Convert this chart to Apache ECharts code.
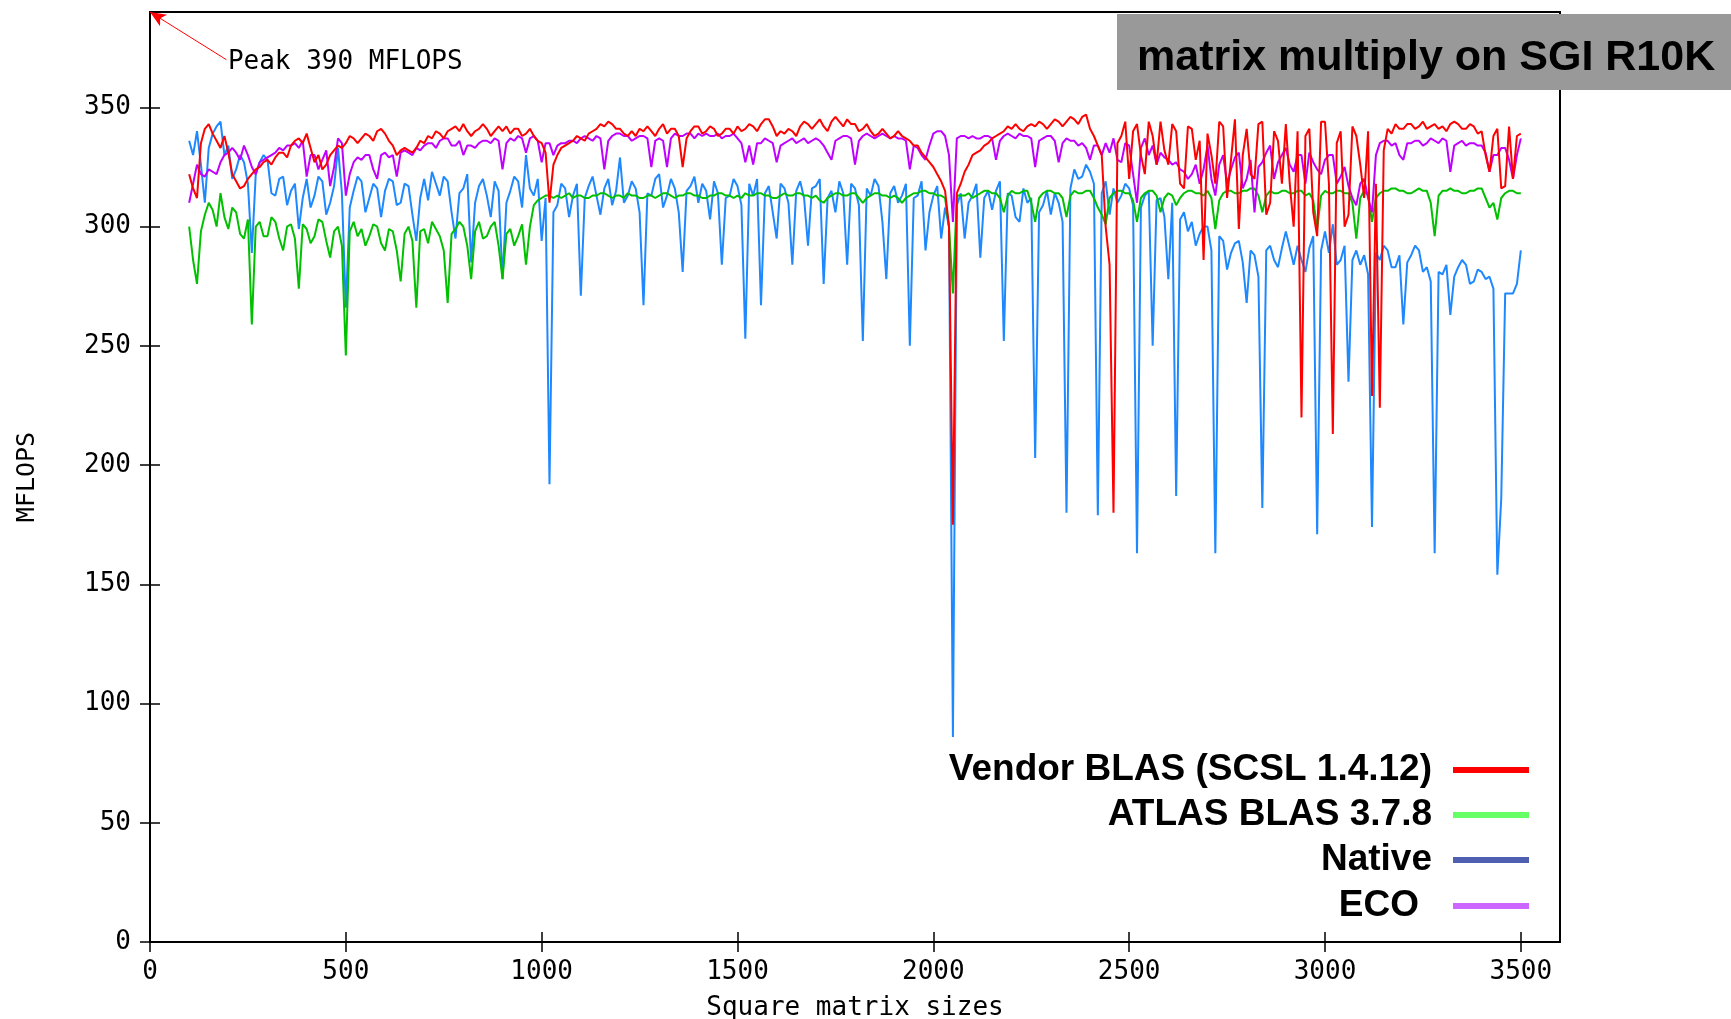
<!DOCTYPE html>
<html>
<head>
<meta charset="utf-8">
<title>matrix multiply on SGI R10K</title>
<script src="https://cdn.jsdelivr.net/npm/echarts/dist/echarts.min.js"></script>
<style>
    html, body { margin: 0; padding: 0; background: #fff; }
    #chart { width: 1731px; height: 1019px; }
</style>
</head>
<body>
<div id="chart"></div>
<script>
// square matrix sizes (x)
var sizes = [
    100, 110, 120, 130, 140, 150, 160, 170, 180, 190, 200, 210, 220, 230, 240, 250, 260, 270, 280, 290,
    300, 310, 320, 330, 340, 350, 360, 370, 380, 390, 400, 410, 420, 430, 440, 450, 460, 470, 480, 490,
    500, 510, 520, 530, 540, 550, 560, 570, 580, 590, 600, 610, 620, 630, 640, 650, 660, 670, 680, 690,
    700, 710, 720, 730, 740, 750, 760, 770, 780, 790, 800, 810, 820, 830, 840, 850, 860, 870, 880, 890,
    900, 910, 920, 930, 940, 950, 960, 970, 980, 990, 1000, 1010, 1020, 1030, 1040, 1050, 1060, 1070, 1080, 1090,
    1100, 1110, 1120, 1130, 1140, 1150, 1160, 1170, 1180, 1190, 1200, 1210, 1220, 1230, 1240, 1250, 1260, 1270, 1280, 1290,
    1300, 1310, 1320, 1330, 1340, 1350, 1360, 1370, 1380, 1390, 1400, 1410, 1420, 1430, 1440, 1450, 1460, 1470, 1480, 1490,
    1500, 1510, 1520, 1530, 1540, 1550, 1560, 1570, 1580, 1590, 1600, 1610, 1620, 1630, 1640, 1650, 1660, 1670, 1680, 1690,
    1700, 1710, 1720, 1730, 1740, 1750, 1760, 1770, 1780, 1790, 1800, 1810, 1820, 1830, 1840, 1850, 1860, 1870, 1880, 1890,
    1900, 1910, 1920, 1930, 1940, 1950, 1960, 1970, 1980, 1990, 2000, 2010, 2020, 2030, 2040, 2050, 2060, 2070, 2080, 2090,
    2100, 2110, 2120, 2130, 2140, 2150, 2160, 2170, 2180, 2190, 2200, 2210, 2220, 2230, 2240, 2250, 2260, 2270, 2280, 2290,
    2300, 2310, 2320, 2330, 2340, 2350, 2360, 2370, 2380, 2390, 2400, 2410, 2420, 2430, 2440, 2450, 2460, 2470, 2480, 2490,
    2500, 2510, 2520, 2530, 2540, 2550, 2560, 2570, 2580, 2590, 2600, 2610, 2620, 2630, 2640, 2650, 2660, 2670, 2680, 2690,
    2700, 2710, 2720, 2730, 2740, 2750, 2760, 2770, 2780, 2790, 2800, 2810, 2820, 2830, 2840, 2850, 2860, 2870, 2880, 2890,
    2900, 2910, 2920, 2930, 2940, 2950, 2960, 2970, 2980, 2990, 3000, 3010, 3020, 3030, 3040, 3050, 3060, 3070, 3080, 3090,
    3100, 3110, 3120, 3130, 3140, 3150, 3160, 3170, 3180, 3190, 3200, 3210, 3220, 3230, 3240, 3250, 3260, 3270, 3280, 3290,
    3300, 3310, 3320, 3330, 3340, 3350, 3360, 3370, 3380, 3390, 3400, 3410, 3420, 3430, 3440, 3450, 3460, 3470, 3480, 3490,
    3500
];

// Vendor BLAS (SCSL 1.4.12)
var vendor = [
    322, 316, 312, 335, 341, 343, 339, 336, 333, 338, 331, 322, 319, 316, 317, 320, 322, 324, 325, 327,
    328, 326, 329, 331, 331, 329, 334, 336, 337, 335, 339, 333, 327, 330, 324, 326, 330, 332, 334, 333,
    335, 338, 337, 335, 337, 339, 338, 336, 340, 341, 339, 336, 334, 330, 332, 333, 332, 331, 333, 336,
    335, 338, 337, 340, 339, 337, 340, 341, 342, 340, 343, 340, 338, 340, 341, 343, 341, 338, 340, 342,
    340, 342, 339, 341, 341, 338, 339, 341, 338, 336, 335, 331, 310, 326, 330, 333, 334, 335, 336, 338,
    337, 336, 339, 340, 341, 343, 342, 344, 343, 341, 341, 339, 338, 340, 338, 341, 340, 342, 340, 338,
    341, 343, 339, 341, 341, 338, 325, 337, 340, 342, 342, 339, 340, 342, 341, 338, 339, 341, 341, 339,
    342, 340, 341, 343, 342, 340, 343, 345, 345, 342, 338, 340, 339, 341, 340, 338, 342, 344, 343, 341,
    343, 345, 342, 340, 344, 346, 344, 342, 345, 343, 343, 340, 341, 343, 340, 338, 339, 341, 339, 337,
    338, 340, 338, 337, 336, 334, 334, 331, 329, 327, 325, 322, 319, 315, 300, 175, 314, 318, 323, 326,
    330, 331, 332, 334, 335, 337, 338, 339, 340, 342, 341, 343, 341, 340, 342, 343, 342, 344, 343, 341,
    343, 345, 344, 342, 344, 346, 345, 343, 346, 347, 341, 338, 334, 330, 300, 284, 180, 335, 338, 344,
    320, 340, 343, 330, 322, 344, 338, 326, 344, 332, 326, 343, 340, 318, 316, 342, 341, 328, 336, 286,
    339, 330, 318, 344, 342, 312, 328, 345, 299, 330, 341, 322, 320, 343, 344, 305, 310, 340, 336, 318,
    343, 318, 300, 340, 220, 338, 341, 306, 296, 344, 344, 318, 213, 335, 340, 300, 305, 342, 338, 326,
    312, 340, 229, 318, 224, 332, 341, 339, 343, 341, 341, 343, 343, 341, 342, 344, 341, 342, 343, 341,
    342, 340, 343, 344, 343, 341, 341, 343, 342, 339, 340, 330, 323, 338, 341, 316, 317, 342, 320, 338,
    339
];

// ATLAS BLAS 3.7.8
var atlas = [
    300, 286, 276, 298, 305, 310, 307, 300, 314, 304, 299, 308, 306, 297, 295, 303, 259, 300, 302, 296,
    296, 304, 302, 295, 290, 300, 301, 295, 274, 301, 299, 293, 296, 303, 302, 294, 287, 298, 300, 292,
    246, 298, 302, 296, 299, 292, 296, 301, 300, 293, 290, 299, 298, 290, 277, 297, 300, 294, 266, 298,
    299, 293, 302, 299, 296, 290, 268, 297, 299, 302, 300, 292, 278, 298, 302, 295, 296, 300, 302, 292,
    278, 297, 299, 292, 296, 301, 284, 300, 309, 311, 312, 313, 313, 312, 313, 312, 313, 314, 312, 313,
    313, 312, 312, 313, 313, 314, 314, 313, 312, 313, 313, 312, 314, 313, 313, 312, 312, 313, 313, 312,
    313, 314, 314, 313, 312, 313, 313, 314, 314, 313, 313, 312, 312, 313, 313, 314, 314, 313, 313, 312,
    313, 312, 314, 313, 313, 314, 314, 313, 313, 312, 312, 313, 314, 313, 313, 314, 314, 313, 313, 312,
    313, 311, 310, 312, 313, 314, 314, 313, 313, 314, 314, 312, 310, 312, 313, 314, 314, 313, 313, 312,
    313, 312, 310, 312, 313, 314, 314, 315, 315, 314, 314, 313, 313, 312, 300, 272, 313, 313, 313, 314,
    312, 313, 314, 315, 315, 314, 314, 312, 306, 313, 315, 314, 314, 315, 315, 310, 302, 312, 314, 315,
    315, 314, 314, 312, 304, 313, 315, 314, 314, 315, 315, 312, 308, 305, 301, 312, 314, 315, 315, 314,
    314, 311, 302, 312, 314, 315, 315, 313, 306, 312, 314, 313, 309, 312, 314, 315, 315, 314, 314, 313,
    315, 312, 299, 311, 314, 315, 315, 314, 314, 315, 315, 316, 316, 313, 306, 313, 315, 314, 314, 315,
    315, 314, 314, 315, 315, 313, 314, 311, 299, 313, 315, 314, 314, 315, 315, 314, 314, 310, 295, 312,
    315, 313, 302, 312, 314, 315, 315, 316, 316, 315, 315, 314, 314, 315, 316, 315, 315, 310, 296, 313,
    315, 315, 316, 315, 315, 314, 314, 315, 315, 316, 316, 312, 308, 310, 303, 312, 314, 315, 315, 314,
    314
];

// Native
var native = [
    336, 330, 340, 326, 310, 333, 339, 342, 344, 330, 334, 320, 324, 330, 327, 318, 289, 322, 327, 330,
    328, 314, 313, 320, 321, 309, 315, 318, 299, 312, 320, 308, 313, 321, 319, 305, 310, 317, 333, 314,
    266, 308, 315, 321, 319, 306, 312, 318, 316, 304, 315, 320, 319, 309, 310, 318, 317, 305, 294, 312,
    320, 311, 323, 318, 313, 321, 319, 306, 295, 314, 316, 322, 285, 310, 317, 320, 313, 304, 319, 315,
    278, 310, 315, 321, 319, 308, 330, 316, 313, 320, 294, 312, 192, 306, 309, 318, 316, 304, 313, 318,
    271, 312, 317, 321, 313, 305, 316, 320, 309, 315, 329, 310, 313, 319, 316, 306, 267, 314, 313, 320,
    322, 308, 313, 320, 316, 306, 281, 315, 317, 321, 310, 318, 315, 303, 319, 314, 284, 312, 313, 320,
    317, 309, 253, 318, 313, 320, 267, 314, 317, 306, 295, 318, 316, 310, 284, 315, 319, 312, 292, 316,
    317, 320, 276, 312, 315, 306, 319, 314, 284, 318, 316, 309, 252, 316, 313, 320, 317, 302, 278, 314,
    317, 310, 313, 318, 250, 312, 313, 319, 290, 306, 313, 317, 295, 308, 300, 86, 309, 314, 295, 310,
    313, 318, 287, 312, 315, 307, 315, 319, 252, 314, 313, 304, 302, 316, 310, 312, 203, 306, 309, 315,
    305, 314, 310, 302, 180, 316, 324, 320, 321, 326, 323, 318, 179, 314, 319, 305, 316, 310, 313, 318,
    316, 309, 163, 308, 313, 315, 250, 311, 312, 304, 278, 310, 187, 303, 306, 298, 302, 292, 297, 300,
    300, 290, 163, 296, 294, 282, 289, 293, 294, 285, 268, 290, 288, 279, 182, 290, 292, 286, 283, 291,
    298, 291, 284, 292, 286, 281, 291, 296, 171, 290, 298, 289, 301, 284, 286, 292, 235, 286, 290, 284,
    288, 280, 174, 289, 286, 292, 290, 283, 283, 288, 259, 285, 288, 292, 290, 281, 283, 277, 163, 281,
    280, 284, 263, 279, 283, 286, 284, 276, 277, 282, 281, 278, 279, 274, 154, 186, 272, 272, 272, 276,
    290
];

// ECO
var eco = [
    310, 318, 326, 322, 321, 324, 323, 322, 327, 330, 331, 333, 331, 328, 334, 330, 325, 322, 327, 328,
    329, 330, 331, 333, 332, 334, 334, 335, 333, 336, 321, 330, 330, 324, 328, 332, 317, 325, 337, 335,
    313, 322, 327, 329, 328, 330, 330, 324, 320, 330, 331, 329, 330, 321, 331, 332, 331, 330, 333, 332,
    334, 335, 335, 333, 336, 337, 337, 334, 334, 336, 330, 334, 334, 333, 335, 336, 336, 335, 337, 336,
    324, 335, 337, 336, 338, 337, 331, 337, 338, 336, 327, 335, 335, 330, 334, 335, 335, 336, 336, 335,
    337, 338, 337, 336, 338, 337, 324, 336, 338, 339, 339, 338, 338, 336, 337, 338, 338, 337, 325, 336,
    337, 336, 325, 337, 339, 338, 338, 339, 339, 337, 339, 338, 339, 338, 338, 339, 337, 338, 338, 339,
    337, 335, 327, 334, 326, 335, 335, 337, 336, 335, 327, 334, 335, 336, 337, 335, 336, 337, 335, 336,
    337, 336, 334, 331, 328, 336, 337, 338, 338, 337, 326, 336, 338, 339, 338, 337, 338, 339, 338, 337,
    338, 337, 337, 336, 324, 334, 333, 330, 328, 334, 339, 340, 340, 338, 330, 302, 337, 338, 338, 337,
    338, 337, 337, 338, 338, 337, 328, 336, 338, 339, 338, 337, 339, 338, 338, 337, 325, 336, 337, 338,
    338, 336, 327, 335, 337, 336, 336, 334, 335, 333, 328, 334, 334, 330, 335, 331, 337, 328, 327, 335,
    334, 322, 310, 333, 337, 330, 334, 326, 331, 329, 328, 326, 327, 324, 323, 320, 322, 326, 318, 324,
    334, 320, 313, 326, 330, 318, 324, 329, 331, 316, 320, 328, 306, 325, 327, 331, 334, 320, 327, 330,
    333, 326, 323, 330, 330, 318, 331, 327, 324, 322, 328, 330, 330, 318, 321, 325, 317, 312, 309, 318,
    320, 312, 306, 330, 335, 336, 336, 334, 335, 330, 328, 335, 335, 336, 336, 334, 335, 337, 336, 335,
    337, 336, 323, 334, 335, 336, 334, 335, 335, 334, 334, 331, 323, 330, 330, 333, 333, 328, 320, 330,
    337
];

var xTicks = [0, 500, 1000, 1500, 2000, 2500, 3000, 3500];
var yTicks = [0, 50, 100, 150, 200, 250, 300, 350];

var legendNames = ['Vendor BLAS (SCSL 1.4.12)', 'ATLAS BLAS 3.7.8', 'Native', 'ECO'];
var legendColors = ['#ff0000', '#66ff66', '#5060b0', '#cc66ff'];

var monoFont = 'DejaVu Sans Mono';

function toPoints(values) {
    var pts = [];
    for (var i = 0; i < sizes.length; i++) {
        pts.push([sizes[i], values[i]]);
    }
    return pts;
}

function makeLine(name, values, color, z) {
    return {
        name: name,
        type: 'line',
        data: toPoints(values),
        showSymbol: false,
        symbol: 'none',
        z: z,
        lineStyle: { color: color, width: 2 },
        itemStyle: { color: color }
    };
}

function plainNumber(v) {
    return String(v);
}

//坐标轴
function makeXAxis(pos, showLabel) {
    return {
        type: 'value', position: pos, min: 0, max: 3600, interval: 500,
        axisLine: { show: false },
        axisTick: { show: true, inside: true, length: 10, customValues: xTicks, lineStyle: { color: '#000', width: 1.5 } },
        axisLabel: {
            show: showLabel, customValues: xTicks, margin: 17, formatter: plainNumber,
            color: '#000', fontFamily: monoFont, fontSize: 26
        },
        splitLine: { show: false },
        name: showLabel ? 'Square matrix sizes' : '',
        nameLocation: 'middle', nameGap: 53,
        nameTextStyle: { color: '#000', fontFamily: monoFont, fontSize: 26 }
    };
}

function makeYAxis(pos, showLabel) {
    return {
        type: 'value', position: pos, min: 0, max: 390, interval: 50,
        axisLine: { show: false },
        axisTick: { show: true, inside: true, length: 10, customValues: yTicks, lineStyle: { color: '#000', width: 1.5 } },
        axisLabel: {
            show: showLabel, customValues: yTicks, margin: 19, formatter: plainNumber,
            color: '#000', fontFamily: monoFont, fontSize: 26
        },
        splitLine: { show: false },
        name: showLabel ? 'MFLOPS' : '',
        nameLocation: 'middle', nameGap: 110, nameRotate: 90,
        nameTextStyle: { color: '#000', fontFamily: monoFont, fontSize: 25 }
    };
}

var vendorSeries = makeLine('Vendor BLAS (SCSL 1.4.12)', vendor, '#ff0000', 5);
// Peak 390 MFLOPS 箭头
vendorSeries.markLine = {
    silent: true,
    symbol: ['arrow', 'none'],
    symbolSize: [10, 16],
    label: { show: false },
    lineStyle: { color: '#ff0000', width: 1, type: 'solid' },
    data: [[{ coord: [0, 390] }, { coord: [195, 370] }]]
};
vendorSeries.markPoint = {
    silent: true,
    symbol: 'circle',
    symbolSize: 1,
    itemStyle: { color: 'rgba(0,0,0,0)' },
    label: {
        show: true, position: 'right', distance: 1,
        formatter: 'Peak 390 MFLOPS',
        color: '#000', fontFamily: monoFont, fontSize: 26
    },
    data: [{ coord: [195, 369] }]
};

//图例与标题
var graphics = [
    { type: 'rect', left: 1117, top: 14, shape: { width: 614, height: 76 }, style: { fill: '#999999' } },
    {
        type: 'text', x: 1137, y: 58,
        style: { text: 'matrix multiply on SGI R10K', fill: '#000', font: 'bold 43px "Liberation Sans"', align: 'left', verticalAlign: 'middle' }
    }
];
var legendY = [770, 815, 860, 906];
for (var i = 0; i < legendNames.length; i++) {
    graphics.push({
        type: 'text', x: i == 3 ? 1419 : 1432, y: legendY[i],
        style: { text: legendNames[i], fill: '#000', font: 'bold 37px "Liberation Sans"', align: 'right', verticalAlign: 'middle' }
    });
    graphics.push({
        type: 'rect', x: 1453, y: legendY[i] - 3, shape: { width: 76, height: 6 },
        style: { fill: legendColors[i] }
    });
}

var chart = echarts.init(document.getElementById('chart'));
var option = {
    animation: false,
    backgroundColor: '#fff',
    grid: {
        left: 150, right: 171, top: 12, bottom: 77,
        outerBoundsMode: 'none', containLabel: false,
        show: true, borderColor: '#000', borderWidth: 2, backgroundColor: 'transparent'
    },
    xAxis: [makeXAxis('bottom', true), makeXAxis('top', false)],
    yAxis: [makeYAxis('left', true), makeYAxis('right', false)],
    series: [
        makeLine('Native', native, '#1e88ff', 2),
        makeLine('ATLAS BLAS 3.7.8', atlas, '#00c000', 3),
        makeLine('ECO', eco, '#c000ff', 4),
        vendorSeries
    ],
    graphic: graphics
};
chart.setOption(option);
</script>
</body>
</html>
